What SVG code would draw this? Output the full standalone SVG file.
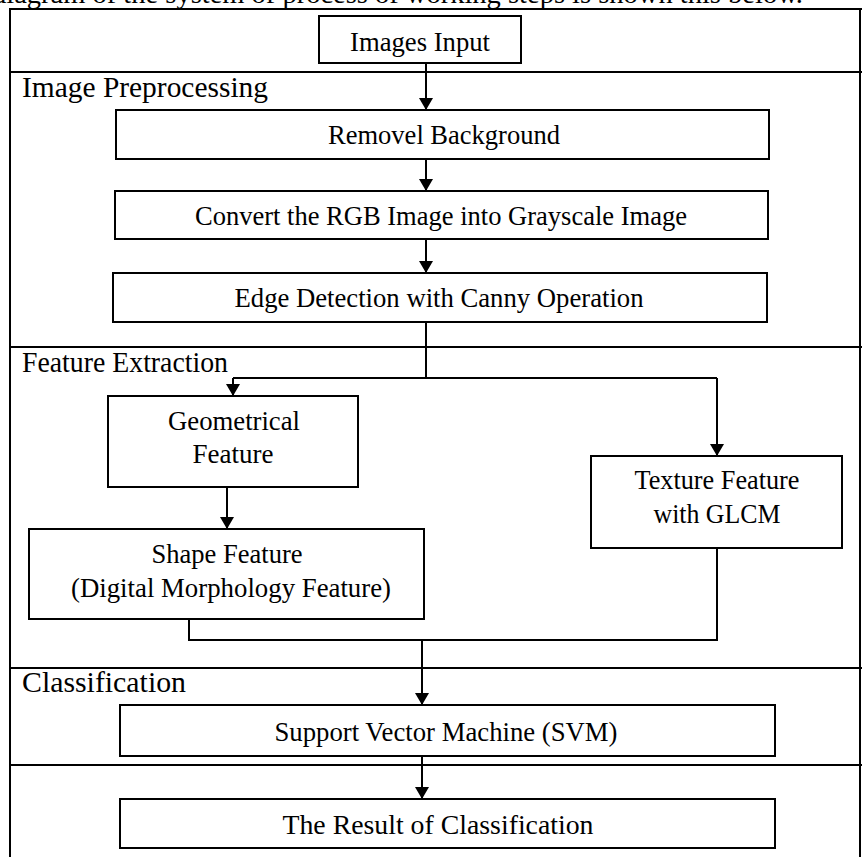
<svg xmlns="http://www.w3.org/2000/svg" width="862" height="857" viewBox="0 0 862 857">
<style>
text{font-family:"Liberation Serif","Times New Roman",serif;fill:#000}
.n{font-size:28px;text-anchor:middle}
.lb{font-size:29px}
.box{fill:#fff;stroke:#000;stroke-width:2}
.ln{fill:none;stroke:#000;stroke-width:2}
</style>
<defs>
<marker id="ah" viewBox="0 0 12 17" refX="12" refY="8.5" markerWidth="12" markerHeight="17" markerUnits="userSpaceOnUse" orient="auto">
<path d="M0,1.5 L12,8.5 L0,15.5 Z" fill="#000"/>
</marker>
</defs>
<rect width="862" height="857" fill="#fff"/>
<text x="-8" y="3" font-size="27" textLength="811" lengthAdjust="spacingAndGlyphs">diagram of the system of process of working steps is shown this below.</text>
<g id="frame">
<path class="ln" d="M10,857 V9 H862"/>
<line class="ln" x1="860" y1="9" x2="860" y2="857"/>
<line class="ln" x1="10" y1="72" x2="862" y2="72"/>
<line class="ln" x1="10" y1="347" x2="862" y2="347"/>
<line class="ln" x1="10" y1="668" x2="862" y2="668"/>
<line class="ln" x1="10" y1="765" x2="862" y2="765"/>
<text class="lb" x="22" y="97" textLength="246" lengthAdjust="spacingAndGlyphs">Image Preprocessing</text>
<text class="lb" x="22" y="372" textLength="206" lengthAdjust="spacingAndGlyphs">Feature Extraction</text>
<text class="lb" x="22" y="692" textLength="164" lengthAdjust="spacingAndGlyphs">Classification</text>
</g>
<g id="connectors">
<line class="ln" x1="426" y1="63" x2="426" y2="110" marker-end="url(#ah)"/>
<line class="ln" x1="426" y1="159" x2="426" y2="191" marker-end="url(#ah)"/>
<line class="ln" x1="426" y1="239" x2="426" y2="273" marker-end="url(#ah)"/>
<path class="ln" d="M426,322 V378 M233,378 H717"/>
<line class="ln" x1="233" y1="378" x2="233" y2="396" marker-end="url(#ah)"/>
<line class="ln" x1="717" y1="378" x2="717" y2="456" marker-end="url(#ah)"/>
<line class="ln" x1="227" y1="487" x2="227" y2="529" marker-end="url(#ah)"/>
<path class="ln" d="M189,619 V640 H717 V548"/>
<line class="ln" x1="422" y1="640" x2="422" y2="705" marker-end="url(#ah)"/>
<line class="ln" x1="422" y1="756" x2="422" y2="799" marker-end="url(#ah)"/>
</g>
<g id="images-input">
<rect class="box" x="319" y="16" width="202" height="47"/>
<text class="n" x="420" y="51" textLength="140" lengthAdjust="spacingAndGlyphs">Images Input</text>
</g>
<g id="removel-background">
<rect class="box" x="116" y="110" width="653" height="49"/>
<text class="n" x="444" y="144" textLength="232" lengthAdjust="spacingAndGlyphs">Removel Background</text>
</g>
<g id="convert">
<rect class="box" x="115" y="191" width="653" height="48"/>
<text class="n" x="441" y="225" textLength="492" lengthAdjust="spacingAndGlyphs">Convert the RGB Image into Grayscale Image</text>
</g>
<g id="edge-detection">
<rect class="box" x="113" y="273" width="654" height="49"/>
<text class="n" x="439" y="307" textLength="409" lengthAdjust="spacingAndGlyphs">Edge Detection with Canny Operation</text>
</g>
<g id="geometrical-feature">
<rect class="box" x="108" y="396" width="250" height="91"/>
<text class="n" x="234" y="430" textLength="132" lengthAdjust="spacingAndGlyphs">Geometrical</text>
<text class="n" x="233" y="463" textLength="81" lengthAdjust="spacingAndGlyphs">Feature</text>
</g>
<g id="texture-feature">
<rect class="box" x="591" y="456" width="251" height="92"/>
<text class="n" x="717" y="489" textLength="165" lengthAdjust="spacingAndGlyphs">Texture Feature</text>
<text class="n" x="717" y="523" textLength="127" lengthAdjust="spacingAndGlyphs">with GLCM</text>
</g>
<g id="shape-feature">
<rect class="box" x="29" y="529" width="395" height="90"/>
<text class="n" x="227" y="563" textLength="151" lengthAdjust="spacingAndGlyphs">Shape Feature</text>
<text class="n" x="231" y="597" textLength="320" lengthAdjust="spacingAndGlyphs">(Digital Morphology Feature)</text>
</g>
<g id="svm">
<rect class="box" x="120" y="705" width="655" height="51"/>
<text class="n" x="446" y="741" textLength="343" lengthAdjust="spacingAndGlyphs">Support Vector Machine (SVM)</text>
</g>
<g id="result">
<rect class="box" x="120" y="799" width="655" height="49"/>
<text class="n" x="438" y="834" textLength="311" lengthAdjust="spacingAndGlyphs">The Result of Classification</text>
</g>
</svg>
